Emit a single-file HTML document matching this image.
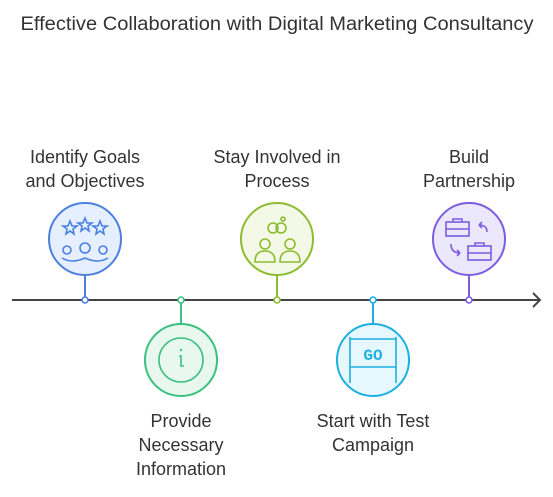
<!DOCTYPE html>
<html><head><meta charset="utf-8"><style>
body{margin:0;background:#fff;width:553px;height:492px;overflow:hidden}
svg text{font-family:"Liberation Sans",sans-serif;fill:#333;font-size:18px;text-anchor:middle}
</style></head><body>
<svg width="553" height="492" viewBox="0 0 553 492">
<text x="277" y="30" textLength="513" lengthAdjust="spacingAndGlyphs" style="font-size:19px">Effective Collaboration with Digital Marketing Consultancy</text>
<line x1="12" y1="300" x2="540" y2="300" stroke="#444" stroke-width="2"/>
<polyline points="533,293 540,300 533,307" fill="none" stroke="#444" stroke-width="2"/>
<!-- blue -->
<line x1="85" y1="276" x2="85" y2="300" stroke="#4a80e0" stroke-width="2"/>
<circle cx="85" cy="239" r="36" fill="#e6efff" stroke="#4a80e0" stroke-width="2"/>
<g fill="none" stroke="#4a80e0" stroke-width="1.6">
<path d="M70,221l2,5 5,0-4,3 1,5-4-3-4,3 1-5-4-3 5,0z"/><path d="M85,218l2,5 5,0-4,3 1,5-4-3-4,3 1-5-4-3 5,0z"/><path d="M100,221l2,5 5,0-4,3 1,5-4-3-4,3 1-5-4-3 5,0z"/>
<circle cx="67" cy="250" r="4"/><circle cx="85" cy="248" r="5"/><circle cx="103" cy="250" r="4"/><path d="M62,258q10,6 23,0q13,6 23,0"/></g>
<circle cx="85" cy="300" r="3" fill="#fff" stroke="#4a80e0" stroke-width="1.6"/>
<text x="85" y="163">Identify Goals</text><text x="85" y="187">and Objectives</text>
<!-- green -->
<line x1="181" y1="300" x2="181" y2="324" stroke="#3cc080" stroke-width="2"/>
<circle cx="181" cy="360" r="36" fill="#e8f8ef" stroke="#3cc080" stroke-width="2"/>
<circle cx="181" cy="360" r="22" fill="none" stroke="#3cc080" stroke-width="1.6"/>
<path d="M179,356h2v10h3" fill="none" stroke="#3cc080" stroke-width="1.6"/><circle cx="181" cy="350" r="1.2" fill="#3cc080"/>
<circle cx="181" cy="300" r="3" fill="#fff" stroke="#3cc080" stroke-width="1.6"/>
<text x="181" y="427">Provide</text><text x="181" y="451">Necessary</text><text x="181" y="475">Information</text>
<!-- lime -->
<line x1="277" y1="276" x2="277" y2="300" stroke="#8cbc30" stroke-width="2"/>
<circle cx="277" cy="239" r="36" fill="#f3f9e6" stroke="#8cbc30" stroke-width="2"/>
<g fill="none" stroke="#8cbc30" stroke-width="1.6"><circle cx="273" cy="228" r="5"/><circle cx="281" cy="228" r="5"/><circle cx="283" cy="219" r="2"/>
<circle cx="265" cy="244" r="5"/><path d="M255,262q0-11 10-11q10,0 10,11z"/><circle cx="290" cy="244" r="5"/><path d="M280,262q0-11 10-11q10,0 10,11z"/></g>
<circle cx="277" cy="300" r="3" fill="#fff" stroke="#8cbc30" stroke-width="1.6"/>
<text x="277" y="163">Stay Involved in</text><text x="277" y="187">Process</text>
<!-- cyan -->
<line x1="373" y1="300" x2="373" y2="324" stroke="#1cb0e0" stroke-width="2"/>
<circle cx="373" cy="360" r="36" fill="#e6f7fe" stroke="#1cb0e0" stroke-width="2"/>
<g fill="none" stroke="#1cb0e0" stroke-width="1.6"><path d="M350,337v46M396,337v46M350,339h46M350,367h46"/></g>
<text x="373" y="360" style="fill:#1cb0e0;font-family:'Liberation Mono',monospace;font-size:16px;font-weight:bold">GO</text>
<circle cx="373" cy="300" r="3" fill="#fff" stroke="#1cb0e0" stroke-width="1.6"/>
<text x="373" y="427">Start with Test</text><text x="373" y="451">Campaign</text>
<!-- purple -->
<line x1="469" y1="276" x2="469" y2="300" stroke="#7c5ce0" stroke-width="2"/>
<circle cx="469" cy="239" r="36" fill="#ece8fc" stroke="#7c5ce0" stroke-width="2"/>
<g fill="none" stroke="#7c5ce0" stroke-width="1.6"><rect x="446" y="222" width="23" height="14"/><path d="M453,222v-3h9v3M446,229h23"/><rect x="468" y="246" width="23" height="14"/><path d="M475,246v-3h9v3M468,253h23"/>
<path d="M487,232q0-7-8-7M479,225l3-3M479,225l3,3"/><path d="M451,244q0,9 9,9M460,253l-3-3M460,253l-3,3"/></g>
<circle cx="469" cy="300" r="3" fill="#fff" stroke="#7c5ce0" stroke-width="1.6"/>
<text x="469" y="163">Build</text><text x="469" y="187">Partnership</text>
</svg>
</body></html>
